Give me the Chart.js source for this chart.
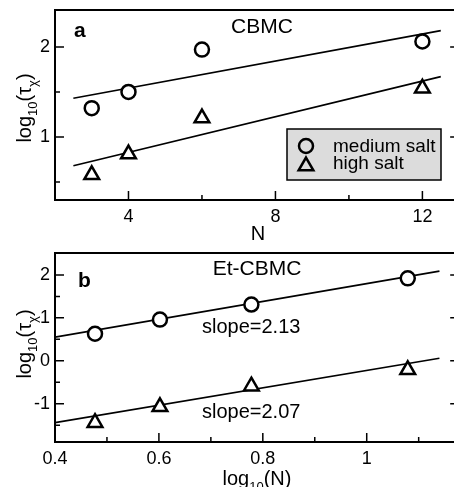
<!DOCTYPE html>
<html>
<head>
<meta charset="utf-8">
<script src="https://cdn.jsdelivr.net/npm/chart.js@4.4.1/dist/chart.umd.min.js"></script>
<style>
  html, body { margin: 0; padding: 0; background: #fff; overflow: hidden; width: 454px; height: 487px; }
  canvas { position: absolute; left: 0; }
  #chartA { top: 0; }
  #chartB { top: 243px; }
</style>
</head>
<body>
<canvas id="chartA" width="454" height="243"></canvas>
<canvas id="chartB" width="454" height="244"></canvas>
<script>
// panel a - CBMC, log10(tau) against N
const nValues = [3, 4, 6, 12];
const mediumSaltA = [1.32, 1.50, 1.97, 2.06];
const highSaltA = [0.58, 0.81, 1.21, 1.54];
const fitNA = [2.5, 12.5];
const fitMediumA = [1.43, 2.18];
const fitHighA = [0.68, 1.67];
const xTicksA = [4, 8, 12];
const xMinorA = [6, 10];
const yTicksA = [1, 2];
const yMinorA = [0.5, 1.5];

// panel b - Et-CBMC, log10(tau) against log10(N)
const logN = [0.477, 0.602, 0.778, 1.079];
const mediumSaltB = [0.63, 0.96, 1.31, 1.92];
const highSaltB = [-1.44, -1.07, -0.59, -0.21];
const fitLogN = [0.40, 1.14];
const fitMediumB = [0.55, 2.09];
const fitHighB = [-1.44, 0.06];
const xTicksB = [0.4, 0.6, 0.8, 1];
const xMinorB = [0.5, 0.7, 0.9, 1.1];
const yTicksB = [-1, 0, 1, 2];
const yMinorB = [-1.5, -0.5, 0.5, 1.5];

const FAMILY = '"Liberation Sans", Arial, Helvetica, sans-serif';
Chart.defaults.font.family = FAMILY;
Chart.defaults.color = '#000';

const pts = (xs, ys) => xs.map((x, i) => ({x: x, y: ys[i]}));

function markerSet(label, xs, ys, style) {
  return {
    label: label,
    data: pts(xs, ys),
    pointStyle: style,
    pointRadius: style === 'triangle' ? 8.5 : 7,
    pointBorderWidth: 2.5,
    pointBorderColor: '#000',
    pointBackgroundColor: '#fff',
    showLine: false,
    legendEntry: true
  };
}

function fitSet(xs, ys) {
  return {
    label: 'fit',
    data: pts(xs, ys),
    showLine: true,
    borderColor: '#000',
    borderWidth: 1.7,
    pointRadius: 0
  };
}

function drawRuns(ctx, runs, size, x, y, rotate) {
  const fontOf = r => (r.sub ? Math.round(size * 0.66) : size) + 'px ' + FAMILY;
  ctx.save();
  ctx.translate(x, y);
  if (rotate) ctx.rotate(-Math.PI / 2);
  let total = 0;
  runs.forEach(r => { ctx.font = fontOf(r); total += ctx.measureText(r.t).width; });
  let cx = -total / 2;
  ctx.textAlign = 'left';
  ctx.textBaseline = 'alphabetic';
  ctx.fillStyle = '#000';
  runs.forEach(r => {
    ctx.font = fontOf(r);
    ctx.fillText(r.t, cx, r.sub ? size * 0.3 : 0);
    cx += ctx.measureText(r.t).width;
  });
  ctx.restore();
}

// frame, inward ticks, text and the boxed legend
// the frame's right side lies just past the picture edge (at opts.frameMax)
const decorations = {
  id: 'decorations',
  afterDatasetsDraw(chart, args, opts) {
    const {ctx, chartArea: a, scales: {x, y}} = chart;
    const right = x.getPixelForValue(opts.frameMax);
    ctx.save();
    ctx.strokeStyle = '#000';
    ctx.lineWidth = 1.5;
    ctx.beginPath();
    const xt = (vals, len) => vals.forEach(v => {
      const px = x.getPixelForValue(v);
      ctx.moveTo(px, a.bottom); ctx.lineTo(px, a.bottom - len);
    });
    const yt = (vals, len) => vals.forEach(v => {
      const py = y.getPixelForValue(v);
      ctx.moveTo(a.left, py); ctx.lineTo(a.left + len, py);
      ctx.moveTo(right, py); ctx.lineTo(right - len, py);
    });
    xt(opts.xMajor, 9); xt(opts.xMinor, 5);
    yt(opts.yMajor, 9); yt(opts.yMinor, 5);
    ctx.stroke();
    ctx.lineWidth = 2;
    ctx.strokeRect(a.left, a.top, right - a.left, a.bottom - a.top);

    ctx.fillStyle = '#000';
    (opts.texts || []).forEach(t => {
      ctx.font = (t.bold ? 'bold ' : '') + t.size + 'px ' + FAMILY;
      ctx.textAlign = t.align || 'left';
      ctx.textBaseline = 'alphabetic';
      ctx.fillText(t.text, t.x, t.y);
    });

    (opts.titles || []).forEach(t => drawRuns(ctx, t.runs, t.size, t.x, t.y, t.rotate));

    const lg = opts.legend;
    if (lg) {
      ctx.fillStyle = '#dcdcdc';
      ctx.fillRect(lg.x, lg.y, lg.w, lg.h);
      ctx.lineWidth = 1.5;
      ctx.strokeRect(lg.x, lg.y, lg.w, lg.h);
      const sets = chart.data.datasets.filter(d => d.legendEntry);
      sets.forEach((d, i) => {
        const cy = lg.rows[i];
        ctx.lineWidth = d.pointBorderWidth;
        ctx.strokeStyle = '#000';
        ctx.beginPath();
        if (d.pointStyle === 'triangle') {
          const r = d.pointRadius;
          let rad = 0;
          ctx.moveTo(lg.symbolX + Math.sin(rad) * r, cy - Math.cos(rad) * r);
          rad += 2 * Math.PI / 3;
          ctx.lineTo(lg.symbolX + Math.sin(rad) * r, cy - Math.cos(rad) * r);
          rad += 2 * Math.PI / 3;
          ctx.lineTo(lg.symbolX + Math.sin(rad) * r, cy - Math.cos(rad) * r);
          ctx.closePath();
        } else {
          ctx.arc(lg.symbolX, cy, d.pointRadius, 0, Math.PI * 2);
        }
        ctx.stroke();
        ctx.fillStyle = '#000';
        ctx.font = lg.size + 'px ' + FAMILY;
        ctx.textAlign = 'left';
        ctx.fillText(d.label, lg.textX, lg.baselines[i]);
      });
    }
    ctx.restore();
  }
};

// fixed axis sizes so the plot area lands where the reference has it
function axis(min, max, ticks, pad, fitSize, horizontal) {
  return {
    type: 'linear',
    min: min,
    max: max,
    grid: {display: false, drawTicks: false},
    border: {display: false},
    ticks: {padding: pad, font: {size: 18}, color: '#000', callback: v => String(v)},
    afterBuildTicks: s => { s.ticks = ticks.map(v => ({value: v})); },
    afterFit: s => {
      if (horizontal) {
        s.height = fitSize;
        s.paddingLeft = 0;
        s.paddingRight = 0;
      } else {
        s.width = fitSize;
        s.paddingTop = 0;
        s.paddingBottom = 0;
      }
    }
  };
}

function makeChart(id, datasets, scales, deco) {
  return new Chart(document.getElementById(id), {
    type: 'scatter',
    data: {datasets: datasets},
    options: {
      responsive: false,
      animation: false,
      devicePixelRatio: 1,
      layout: {autoPadding: false, padding: {top: 10, right: 0, left: 0, bottom: 0}},
      scales: scales,
      plugins: {legend: {display: false}, tooltip: {enabled: false}, decorations: deco}
    },
    plugins: [decorations]
  });
}

const tauTitle = [{t: 'log'}, {t: '10', sub: true}, {t: '(τ'}, {t: 'χ', sub: true}, {t: ')'}];

makeChart('chartA', [
  markerSet('medium salt', nValues, mediumSaltA, 'circle'),
  markerSet('high salt', nValues, highSaltA, 'triangle'),
  fitSet(fitNA, fitMediumA),
  fitSet(fitNA, fitHighA)
], {
  x: axis(2, 12.86, xTicksA, 6, 43, true),
  y: axis(0.3, 2.41, yTicksA, 5, 55, false)
}, {
  frameMax: 13,
  xMajor: xTicksA, xMinor: xMinorA, yMajor: yTicksA, yMinor: yMinorA,
  texts: [
    {text: 'a', x: 74, y: 37, size: 21, bold: true},
    {text: 'CBMC', x: 262, y: 33, size: 21, align: 'center'}
  ],
  titles: [
    {runs: tauTitle, size: 20, x: 31, y: 108, rotate: true},
    {runs: [{t: 'N'}], size: 20, x: 258, y: 240}
  ],
  legend: {x: 287, y: 129, w: 154, h: 51, symbolX: 306, rows: [146, 166], textX: 333, baselines: [151.5, 168.5], size: 19}
});

makeChart('chartB', [
  markerSet('medium salt', logN, mediumSaltB, 'circle'),
  markerSet('high salt', logN, highSaltB, 'triangle'),
  fitSet(fitLogN, fitMediumB),
  fitSet(fitLogN, fitHighB)
], {
  x: axis(0.4, 1.168, xTicksB, 6, 45, true),
  y: axis(-1.89, 2.51, yTicksB, 5, 55, false)
}, {
  frameMax: 1.178,
  xMajor: xTicksB, xMinor: xMinorB, yMajor: yTicksB, yMinor: yMinorB,
  texts: [
    {text: 'b', x: 78, y: 44, size: 21, bold: true},
    {text: 'Et-CBMC', x: 257, y: 32, size: 21, align: 'center'},
    {text: 'slope=2.13', x: 202, y: 90, size: 20},
    {text: 'slope=2.07', x: 202, y: 175, size: 20}
  ],
  titles: [
    {runs: tauTitle, size: 20, x: 31, y: 101, rotate: true},
    {runs: [{t: 'log'}, {t: '10', sub: true}, {t: '(N)'}], size: 20, x: 257, y: 242}
  ]
});
</script>
</body>
</html>
